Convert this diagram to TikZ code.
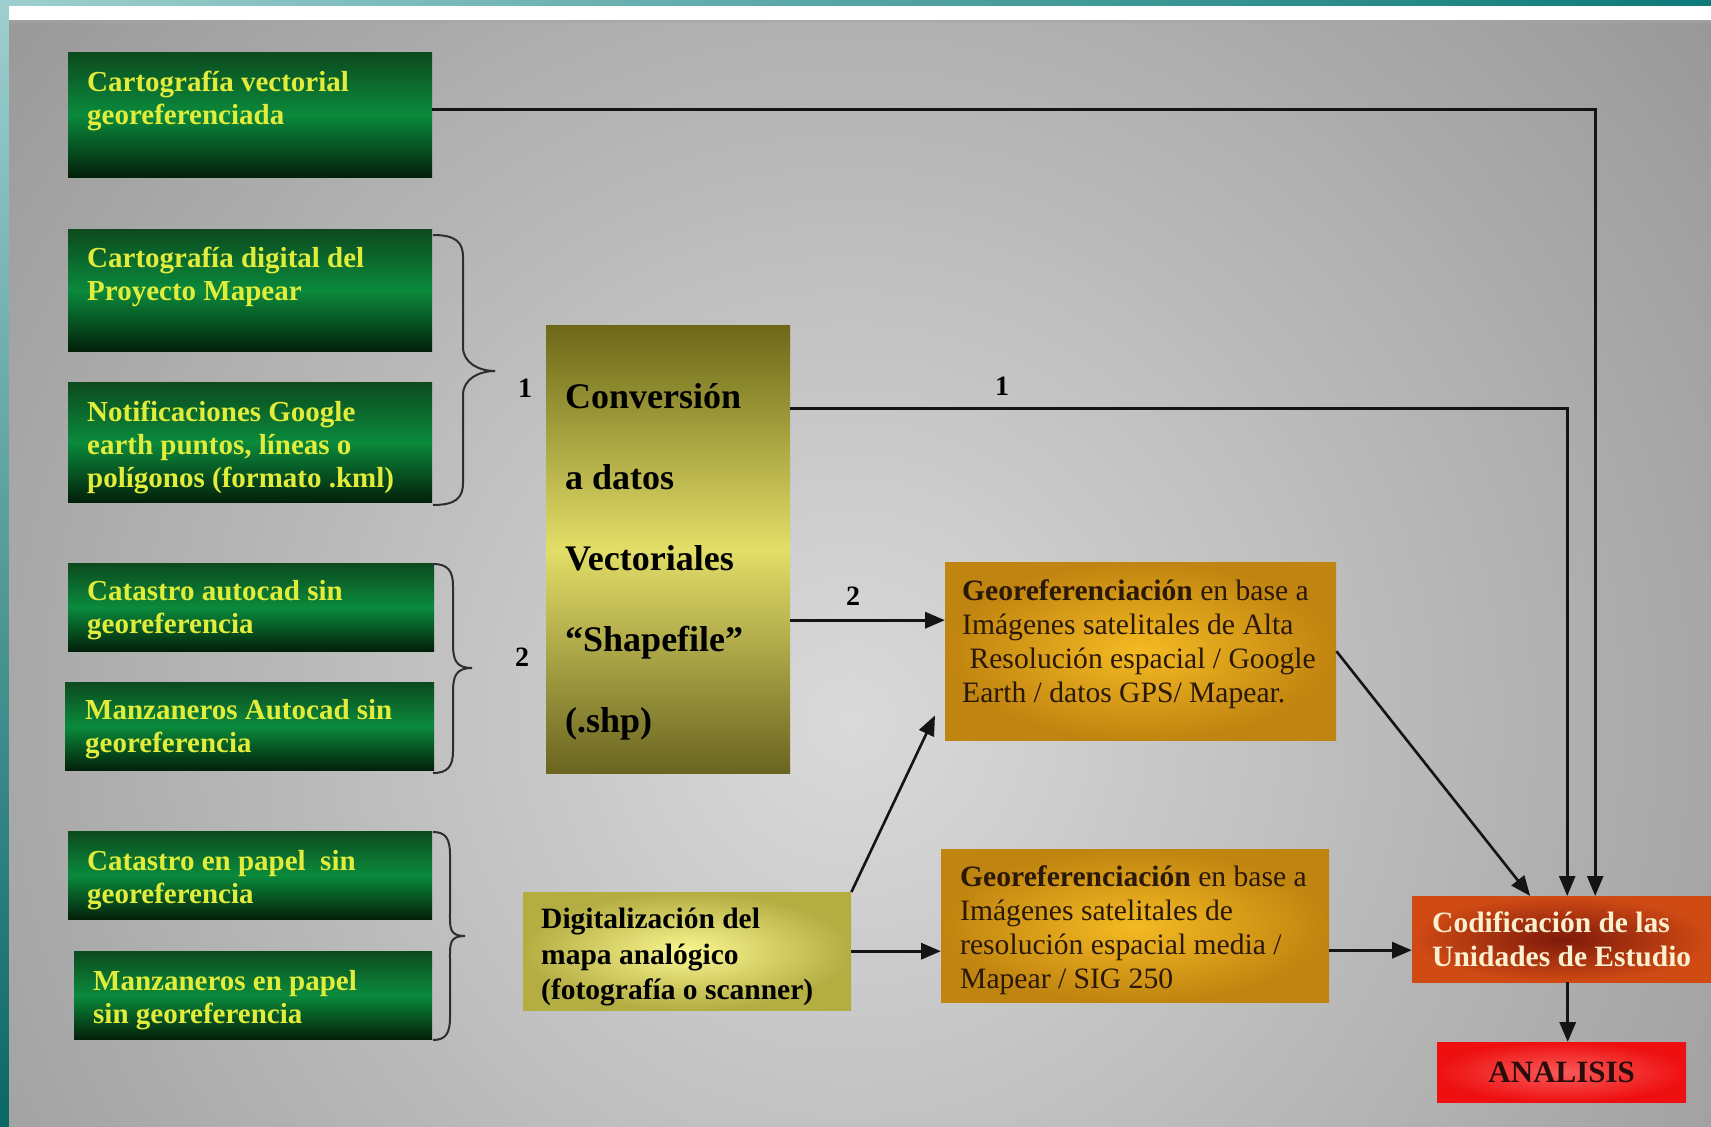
\documentclass[tikz,border=0pt]{standalone}
\usepackage{fontspec}
\setmainfont{Liberation Serif}
\usetikzlibrary{arrows.meta,calc}
\definecolor{gTop}{HTML}{0C4A1E}
\definecolor{gMid}{HTML}{0A8A3C}
\definecolor{gBot}{HTML}{03200A}
\definecolor{gText}{HTML}{E2EC3A}
\definecolor{cTop}{HTML}{6C6818}
\definecolor{cMid}{HTML}{E2DE68}
\definecolor{cBot}{HTML}{6A6420}
\definecolor{dIn}{HTML}{FAF690}
\definecolor{dOut}{HTML}{B4AD42}
\definecolor{oIn}{HTML}{F4BA22}
\definecolor{oOut}{HTML}{C08410}
\definecolor{oText}{HTML}{2A1808}
\definecolor{rIn}{HTML}{7E1A0A}
\definecolor{rOut}{HTML}{D04A14}
\definecolor{rText}{HTML}{FAF0D0}
\definecolor{aIn}{HTML}{FA5A5A}
\definecolor{aOut}{HTML}{EE1010}
\definecolor{aText}{HTML}{2A0C0C}
\definecolor{tealL}{HTML}{9ECFCF}
\definecolor{tealD}{HTML}{0B7A78}
\definecolor{panelIn}{HTML}{DADADA}
\definecolor{panelOut}{HTML}{969696}
\definecolor{ink}{HTML}{141414}
\definecolor{braceCol}{HTML}{2E2E2E}

\tikzset{
  boxbase/.style={rectangle, inner sep=0pt, anchor=north west, draw=none},
  gbox/.style={boxbase, top color=gTop, bottom color=gBot, middle color=gMid},
  cbox/.style={boxbase, top color=cTop, bottom color=cBot, middle color=cMid},
  dbox/.style={boxbase, inner color=dIn, outer color=dOut},
  obox/.style={boxbase, inner color=oIn, outer color=oOut},
  rbox/.style={boxbase, inner color=rIn, outer color=rOut},
  abox/.style={boxbase, inner color=aIn, outer color=aOut},
  gtext/.style={anchor=north west, inner sep=0pt, align=left, text=gText,
    font=\bfseries\fontsize{29}{33}\selectfont, execute at begin node=\strut},
  ctext/.style={anchor=north west, inner sep=0pt, align=left, text=black,
    font=\bfseries\fontsize{36}{81}\selectfont, execute at begin node=\strut},
  dtext/.style={anchor=north west, inner sep=0pt, align=left, text=black,
    font=\bfseries\fontsize{29.5}{35.5}\selectfont, execute at begin node=\strut},
  otext/.style={anchor=north west, inner sep=0pt, align=left, text=oText,
    font=\fontsize{29.6}{34}\selectfont, execute at begin node=\strut},
  rtext/.style={anchor=north west, inner sep=0pt, align=left, text=rText,
    font=\bfseries\fontsize{29.5}{34}\selectfont, execute at begin node=\strut},
  numlabel/.style={inner sep=0pt, text=black, font=\bfseries\fontsize{28}{30}\selectfont},
  conn/.style={draw=ink, line width=2.6pt},
  thickconn/.style={draw=ink, line width=3.4pt},
  tip/.style={-{Triangle[length=20pt,width=16pt]}},
  bracestyle/.style={draw=braceCol, line width=2pt}
}

% #1 x0, #2 ytop, #3 xv, #4 xtip, #5 ymid, #6 ybot
\newcommand{\mybrace}[6]{%
  \draw[bracestyle] (#1,#2) .. controls ({#1+0.75*(#3-#1)},#2) and (#3,{#2+7}) .. (#3,{#2+22})
    -- (#3,{#5-24}) .. controls (#3,{#5-8}) and ({#4-16},#5) .. (#4,#5)
    .. controls ({#4-16},#5) and (#3,{#5+8}) .. (#3,{#5+24})
    -- (#3,{#6-22}) .. controls (#3,{#6-7}) and ({#1+0.75*(#3-#1)},#6) .. (#1,#6);}

\begin{document}
\begin{tikzpicture}[x=1pt,y=-1pt]
\useasboundingbox (0,0) rectangle (1711,1127);

% frame and background
\shade[left color=tealL, right color=tealD] (0,0) rectangle (1711,1127);
\shade[top color=tealL, bottom color=tealD!85!black] (0,0) rectangle (9,1127);
\fill[white] (9,6) rectangle (1711,20);
\begin{scope}
  \clip (9,20) rectangle (1711,1127);
  \shade[inner color=panelIn, outer color=panelOut] (850,720) circle (1150);
  \fill[black!35, opacity=0.5] (9,20) rectangle (1711,23);
\end{scope}

% green source boxes
\node[gbox, minimum width=364pt, minimum height=125pt] (g1) at (68,52) {};
\node[gtext] (g1t) at (87,71) {Cartografía vectorial\\georeferenciada};
\node[gbox, minimum width=364pt, minimum height=122pt] (g2) at (68,229) {};
\node[gtext] (g2t) at (87,247) {Cartografía digital del\\Proyecto Mapear};
\node[gbox, minimum width=364pt, minimum height=120pt] (g3) at (68,382) {};
\node[gtext] (g3t) at (87,401) {Notificaciones Google\\earth puntos, líneas o\\polígonos (formato .kml)};
\node[gbox, minimum width=366pt, minimum height=88pt] (g4) at (68,563) {};
\node[gtext] (g4t) at (87,580) {Catastro autocad sin\\georeferencia};
\node[gbox, minimum width=369pt, minimum height=88pt] (g5) at (65,682) {};
\node[gtext] (g5t) at (85,699) {Manzaneros Autocad sin\\georeferencia};
\node[gbox, minimum width=364pt, minimum height=88pt] (g6) at (68,831) {};
\node[gtext] (g6t) at (87,850) {Catastro en papel\ \ sin\\georeferencia};
\node[gbox, minimum width=358pt, minimum height=88pt] (g7) at (74,951) {};
\node[gtext] (g7t) at (93,970) {Manzaneros en papel\\sin georeferencia};

% braces
\mybrace{433}{235}{463}{495}{371}{505}
\mybrace{433}{564}{453}{472}{668}{773}
\mybrace{433}{832}{450}{465}{936}{1040}
\node[numlabel] (n1a) at (525,388) {1};
\node[numlabel] (n2a) at (522,657) {2};

% conversion box
\node[cbox, minimum width=244pt, minimum height=448pt] (conv) at (546,325) {};
\node[ctext] (convt) at (565,383) {Conversión\\a datos\\Vectoriales\\“Shapefile”\\(.shp)};

% digitalizacion box
\node[dbox, minimum width=328pt, minimum height=118pt] (dig) at (523,892) {};
\node[dtext] (digt) at (541,908) {Digitalización del\\mapa analógico\\(fotografía o scanner)};

% georeferencing boxes
\node[obox, minimum width=391pt, minimum height=178pt] (geo1) at (945,562) {};
\node[otext] (geo1t) at (962,579) {\textbf{Georeferenciación} en base a\\Imágenes satelitales de Alta\\\ Resolución espacial / Google\\Earth / datos GPS/ Mapear.};
\node[obox, minimum width=388pt, minimum height=153pt] (geo2) at (941,849) {};
\node[otext] (geo2t) at (960,865) {\textbf{Georeferenciación} en base a\\Imágenes satelitales de\\resolución espacial media /\\Mapear / SIG 250};

% codificacion and analisis
\node[rbox, minimum width=299pt, minimum height=86pt] (cod) at (1412,896) {};
\node[rtext] (codt) at (1432,912) {Codificación de las\\Unidades de Estudio};
\node[abox, minimum width=249pt, minimum height=60pt, text=aText,
      font=\bfseries\fontsize{31}{33}\selectfont] (ana) at (1437,1042) {ANALISIS};

% connectors
\draw[conn, tip] ([yshift=5pt]g1.east) -| ([xshift=33.5pt]cod.north);
\draw[conn, tip] ([yshift=141pt]conv.east) -| ([xshift=5.5pt]cod.north);
\node[numlabel] (n1b) at (1002,386) {1};
\draw[thickconn, tip] ([yshift=-71pt]conv.east) -- ([yshift=-71pt]conv.east -| geo1.west);
\node[numlabel] (n2b) at (853,596) {2};
\draw[conn, tip] (geo1.east) -- ([xshift=-31.5pt]cod.north);
\draw[conn, tip] (dig.north east) -- ([shift={(-10pt,25pt)}]geo1.south west);
\draw[thickconn, tip] (dig.east) -- (dig.east -| geo2.west);
\draw[thickconn, tip] ([yshift=-11pt]cod.west -| geo2.east) -- ([yshift=-11pt]cod.west);
\draw[thickconn, tip] ([xshift=6pt]cod.south) -- ([xshift=6pt]cod.south |- ana.north);
\end{tikzpicture}
\end{document}
